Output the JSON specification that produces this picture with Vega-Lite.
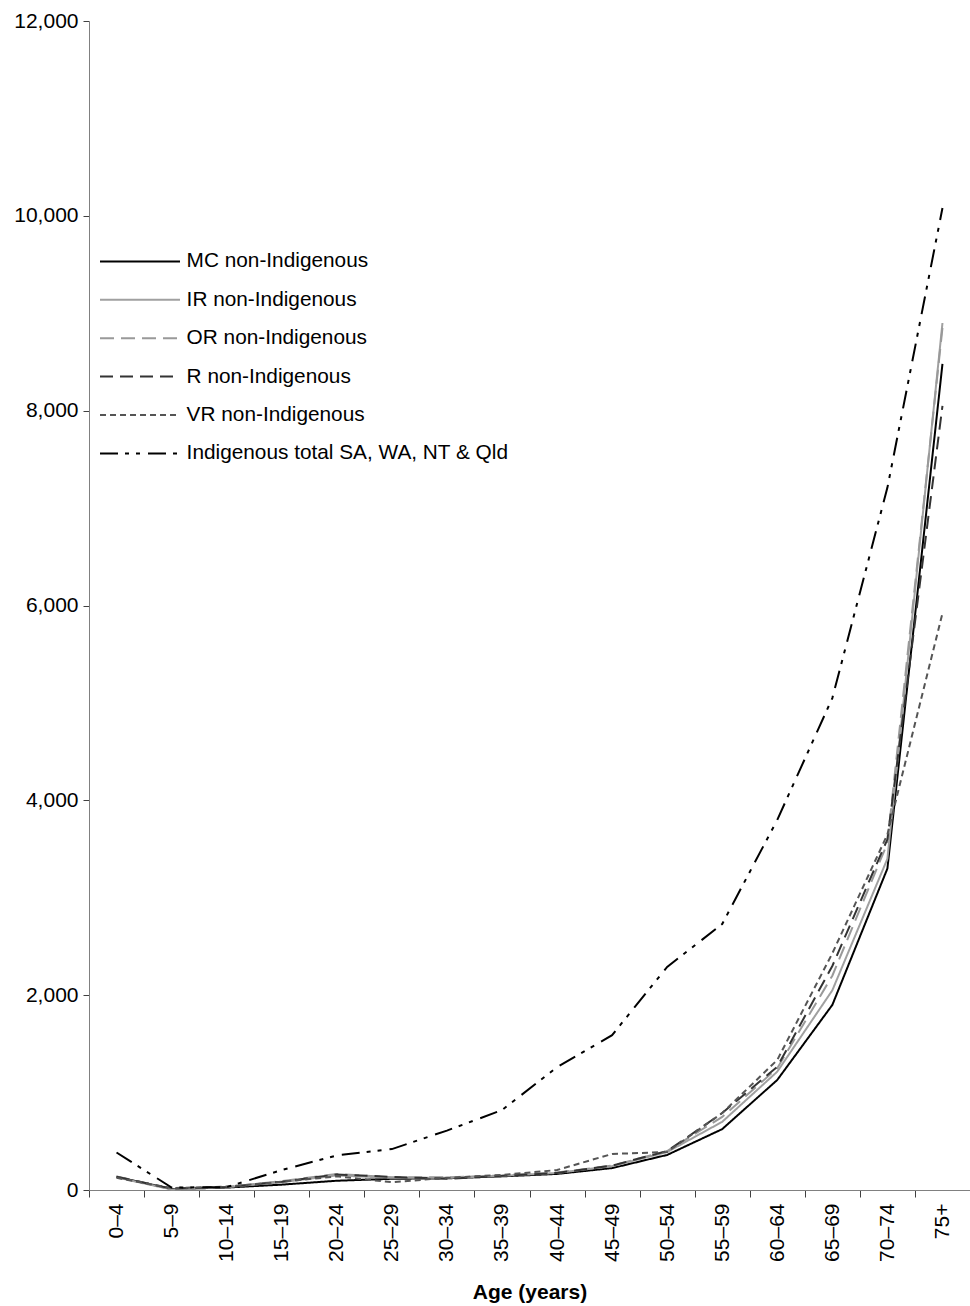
{
  "$schema": "https://vega.github.io/schema/vega-lite/v6.json",
  "width": 881,
  "height": 1169,
  "autosize": "none",
  "padding": {"left": 89, "top": 21, "right": 0, "bottom": 116},
  "background": "white",
  "config": {
    "font": "Liberation Sans",
    "view": {"stroke": null},
    "axis": {"grid": false, "domainColor": "#808080", "tickColor": "#404040", "labelColor": "#000", "labelFont": "Liberation Sans", "labelFontSize": 21, "titleFont": "Liberation Sans", "titleColor": "#000"}
  },
  "data": {
    "values": [
      {"age": "0–4", "series": "MC non-Indigenous", "rate": 135},
      {"age": "5–9", "series": "MC non-Indigenous", "rate": 10},
      {"age": "10–14", "series": "MC non-Indigenous", "rate": 25},
      {"age": "15–19", "series": "MC non-Indigenous", "rate": 55},
      {"age": "20–24", "series": "MC non-Indigenous", "rate": 95},
      {"age": "25–29", "series": "MC non-Indigenous", "rate": 115},
      {"age": "30–34", "series": "MC non-Indigenous", "rate": 120},
      {"age": "35–39", "series": "MC non-Indigenous", "rate": 140},
      {"age": "40–44", "series": "MC non-Indigenous", "rate": 165},
      {"age": "45–49", "series": "MC non-Indigenous", "rate": 225},
      {"age": "50–54", "series": "MC non-Indigenous", "rate": 360},
      {"age": "55–59", "series": "MC non-Indigenous", "rate": 625},
      {"age": "60–64", "series": "MC non-Indigenous", "rate": 1130},
      {"age": "65–69", "series": "MC non-Indigenous", "rate": 1900},
      {"age": "70–74", "series": "MC non-Indigenous", "rate": 3300},
      {"age": "75+", "series": "MC non-Indigenous", "rate": 8480},

      {"age": "0–4", "series": "IR non-Indigenous", "rate": 130},
      {"age": "5–9", "series": "IR non-Indigenous", "rate": 5},
      {"age": "10–14", "series": "IR non-Indigenous", "rate": 30},
      {"age": "15–19", "series": "IR non-Indigenous", "rate": 80},
      {"age": "20–24", "series": "IR non-Indigenous", "rate": 150},
      {"age": "25–29", "series": "IR non-Indigenous", "rate": 125},
      {"age": "30–34", "series": "IR non-Indigenous", "rate": 125},
      {"age": "35–39", "series": "IR non-Indigenous", "rate": 145},
      {"age": "40–44", "series": "IR non-Indigenous", "rate": 175},
      {"age": "45–49", "series": "IR non-Indigenous", "rate": 245},
      {"age": "50–54", "series": "IR non-Indigenous", "rate": 390},
      {"age": "55–59", "series": "IR non-Indigenous", "rate": 700},
      {"age": "60–64", "series": "IR non-Indigenous", "rate": 1215},
      {"age": "65–69", "series": "IR non-Indigenous", "rate": 2050},
      {"age": "70–74", "series": "IR non-Indigenous", "rate": 3400},
      {"age": "75+", "series": "IR non-Indigenous", "rate": 8900},

      {"age": "0–4", "series": "OR non-Indigenous", "rate": 140},
      {"age": "5–9", "series": "OR non-Indigenous", "rate": 10},
      {"age": "10–14", "series": "OR non-Indigenous", "rate": 30},
      {"age": "15–19", "series": "OR non-Indigenous", "rate": 90},
      {"age": "20–24", "series": "OR non-Indigenous", "rate": 165},
      {"age": "25–29", "series": "OR non-Indigenous", "rate": 130},
      {"age": "30–34", "series": "OR non-Indigenous", "rate": 130},
      {"age": "35–39", "series": "OR non-Indigenous", "rate": 150},
      {"age": "40–44", "series": "OR non-Indigenous", "rate": 180},
      {"age": "45–49", "series": "OR non-Indigenous", "rate": 250},
      {"age": "50–54", "series": "OR non-Indigenous", "rate": 400},
      {"age": "55–59", "series": "OR non-Indigenous", "rate": 750},
      {"age": "60–64", "series": "OR non-Indigenous", "rate": 1250},
      {"age": "65–69", "series": "OR non-Indigenous", "rate": 2200},
      {"age": "70–74", "series": "OR non-Indigenous", "rate": 3560},
      {"age": "75+", "series": "OR non-Indigenous", "rate": 8850},

      {"age": "0–4", "series": "R non-Indigenous", "rate": 135},
      {"age": "5–9", "series": "R non-Indigenous", "rate": 15},
      {"age": "10–14", "series": "R non-Indigenous", "rate": 30},
      {"age": "15–19", "series": "R non-Indigenous", "rate": 85},
      {"age": "20–24", "series": "R non-Indigenous", "rate": 160},
      {"age": "25–29", "series": "R non-Indigenous", "rate": 135},
      {"age": "30–34", "series": "R non-Indigenous", "rate": 115},
      {"age": "35–39", "series": "R non-Indigenous", "rate": 145},
      {"age": "40–44", "series": "R non-Indigenous", "rate": 175},
      {"age": "45–49", "series": "R non-Indigenous", "rate": 250},
      {"age": "50–54", "series": "R non-Indigenous", "rate": 400},
      {"age": "55–59", "series": "R non-Indigenous", "rate": 790},
      {"age": "60–64", "series": "R non-Indigenous", "rate": 1265},
      {"age": "65–69", "series": "R non-Indigenous", "rate": 2300},
      {"age": "70–74", "series": "R non-Indigenous", "rate": 3600},
      {"age": "75+", "series": "R non-Indigenous", "rate": 8050},

      {"age": "0–4", "series": "VR non-Indigenous", "rate": 125},
      {"age": "5–9", "series": "VR non-Indigenous", "rate": 20},
      {"age": "10–14", "series": "VR non-Indigenous", "rate": 35},
      {"age": "15–19", "series": "VR non-Indigenous", "rate": 85},
      {"age": "20–24", "series": "VR non-Indigenous", "rate": 140},
      {"age": "25–29", "series": "VR non-Indigenous", "rate": 80},
      {"age": "30–34", "series": "VR non-Indigenous", "rate": 125},
      {"age": "35–39", "series": "VR non-Indigenous", "rate": 155},
      {"age": "40–44", "series": "VR non-Indigenous", "rate": 205},
      {"age": "45–49", "series": "VR non-Indigenous", "rate": 370},
      {"age": "50–54", "series": "VR non-Indigenous", "rate": 390},
      {"age": "55–59", "series": "VR non-Indigenous", "rate": 790},
      {"age": "60–64", "series": "VR non-Indigenous", "rate": 1335},
      {"age": "65–69", "series": "VR non-Indigenous", "rate": 2430},
      {"age": "70–74", "series": "VR non-Indigenous", "rate": 3650},
      {"age": "75+", "series": "VR non-Indigenous", "rate": 5920},

      {"age": "0–4", "series": "Indigenous total SA, WA, NT & Qld", "rate": 385},
      {"age": "5–9", "series": "Indigenous total SA, WA, NT & Qld", "rate": 25},
      {"age": "10–14", "series": "Indigenous total SA, WA, NT & Qld", "rate": 30},
      {"age": "15–19", "series": "Indigenous total SA, WA, NT & Qld", "rate": 205},
      {"age": "20–24", "series": "Indigenous total SA, WA, NT & Qld", "rate": 355},
      {"age": "25–29", "series": "Indigenous total SA, WA, NT & Qld", "rate": 420},
      {"age": "30–34", "series": "Indigenous total SA, WA, NT & Qld", "rate": 610},
      {"age": "35–39", "series": "Indigenous total SA, WA, NT & Qld", "rate": 820},
      {"age": "40–44", "series": "Indigenous total SA, WA, NT & Qld", "rate": 1260},
      {"age": "45–49", "series": "Indigenous total SA, WA, NT & Qld", "rate": 1590},
      {"age": "50–54", "series": "Indigenous total SA, WA, NT & Qld", "rate": 2290},
      {"age": "55–59", "series": "Indigenous total SA, WA, NT & Qld", "rate": 2730},
      {"age": "60–64", "series": "Indigenous total SA, WA, NT & Qld", "rate": 3800},
      {"age": "65–69", "series": "Indigenous total SA, WA, NT & Qld", "rate": 5050},
      {"age": "70–74", "series": "Indigenous total SA, WA, NT & Qld", "rate": 7210},
      {"age": "75+", "series": "Indigenous total SA, WA, NT & Qld", "rate": 10080}
    ]
  },
  "mark": {"type": "line", "strokeCap": "butt", "strokeJoin": "miter"},
  "encoding": {
    "x": {
      "field": "age",
      "type": "ordinal",
      "sort": ["0–4", "5–9", "10–14", "15–19", "20–24", "25–29", "30–34", "35–39", "40–44", "45–49", "50–54", "55–59", "60–64", "65–69", "70–74", "75+"],
      "bandPosition": 0.5,
      "scale": {"type": "band", "paddingInner": 0, "paddingOuter": 0},
      "title": "Age (years)",
      "axis": {"labelAngle": -90, "labelAlign": "right", "labelBaseline": "middle", "labelPadding": 6, "tickSize": 7, "tickBand": "extent", "titleFontSize": 21, "titleFontWeight": "bold", "titlePadding": 20}
    },
    "y": {
      "field": "rate",
      "type": "quantitative",
      "scale": {"domain": [0, 12000], "nice": false},
      "title": null,
      "axis": {"values": [0, 2000, 4000, 6000, 8000, 10000, 12000], "format": ",.0f", "tickSize": 6, "labelPadding": 5}
    },
    "color": {
      "field": "series",
      "type": "nominal",
      "scale": {
        "domain": ["MC non-Indigenous", "IR non-Indigenous", "OR non-Indigenous", "R non-Indigenous", "VR non-Indigenous", "Indigenous total SA, WA, NT & Qld"],
        "range": ["#000000", "#a0a0a0", "#999999", "#333333", "#555555", "#000000"]
      },
      "legend": {
        "title": null,
        "orient": "none",
        "legendX": 11,
        "legendY": 230,
        "labelFont": "Liberation Sans",
        "labelFontSize": 20.8,
        "labelColor": "#000",
        "symbolType": "M-5,0H5",
        "symbolSize": 256,
        "symbolOffset": 29.6,
        "labelOffset": 36.2,
        "rowPadding": 16.4,
        "labelLimit": 500
      }
    },
    "strokeDash": {
      "field": "series",
      "type": "nominal",
      "scale": {
        "domain": ["MC non-Indigenous", "IR non-Indigenous", "OR non-Indigenous", "R non-Indigenous", "VR non-Indigenous", "Indigenous total SA, WA, NT & Qld"],
        "range": [[1, 0], [1, 0], [14, 7], [13, 7], [6, 4], [18, 7, 4, 7, 4, 8]]
      },
      "legend": null
    },
    "strokeWidth": {
      "field": "series",
      "type": "nominal",
      "scale": {
        "domain": ["MC non-Indigenous", "IR non-Indigenous", "OR non-Indigenous", "R non-Indigenous", "VR non-Indigenous", "Indigenous total SA, WA, NT & Qld"],
        "range": [2, 2, 3.5, 2.2, 1, 4]
      },
      "legend": null
    }
  }
}
